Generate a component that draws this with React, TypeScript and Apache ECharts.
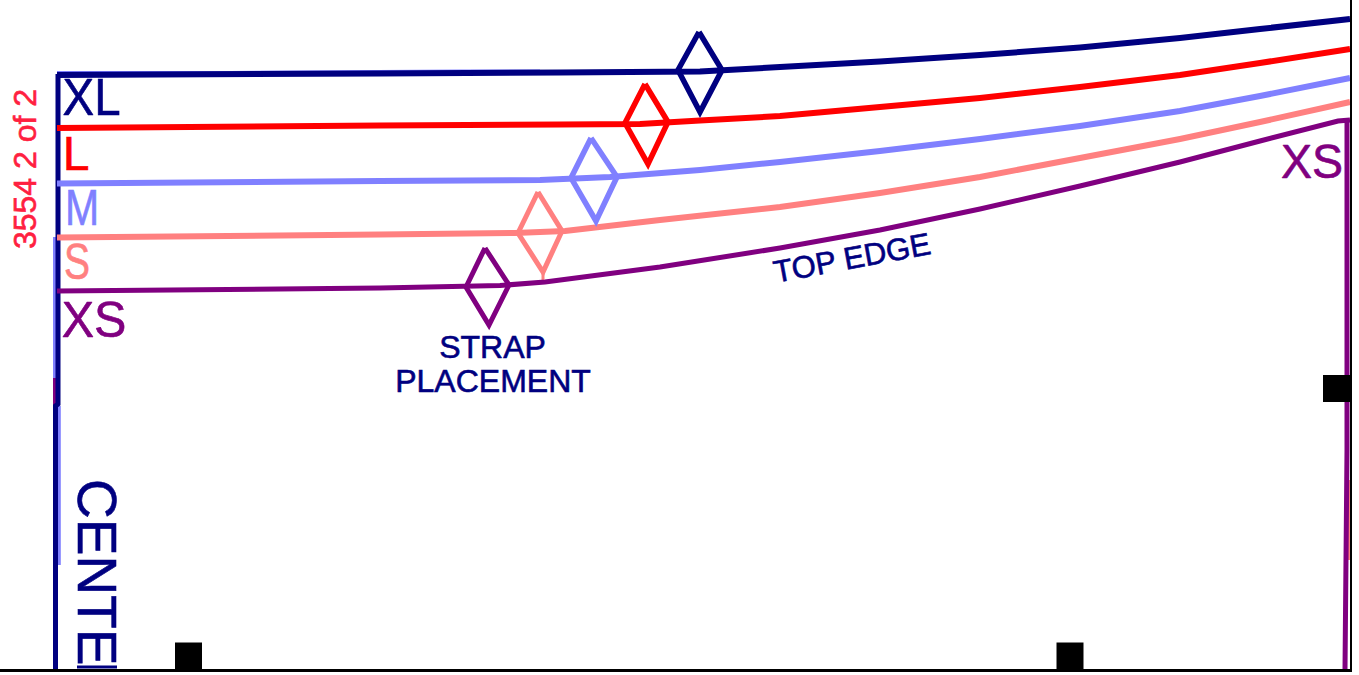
import React, { useEffect, useRef } from "react";
import * as echarts from "echarts";

const NAVY = "#000080";
const RED = "#ff0000";
const BLUE = "#8080ff";
const SALMON = "#ff8080";
const PURPLE = "#800080";
const FONT = '"Liberation Sans", Arial, sans-serif';

// Size curves of the pattern's top edge, as [x, y] on the sheet scale
const sizeXL = [[57, 75], [380, 73.5], [560, 72.5], [700, 71.5], [780, 67], [880, 61.5], [980, 55], [1080, 47.5], [1180, 38], [1260, 29], [1350, 19]];
const sizeL = [[57, 128], [380, 125.5], [560, 124.5], [640, 124], [700, 120.5], [780, 116], [880, 107], [980, 98], [1080, 87], [1180, 75], [1260, 63], [1350, 49]];
const sizeM = [[57, 183.5], [380, 181], [540, 180], [610, 177], [700, 170], [780, 162], [880, 151], [980, 139], [1080, 126], [1180, 111], [1260, 96], [1350, 78]];
const sizeS = [[57, 237.5], [380, 234.5], [515, 233], [565, 231], [660, 220], [780, 207], [880, 193], [980, 177], [1080, 158], [1180, 139], [1260, 122], [1350, 102]];
const sizeXS = [[57, 291], [380, 288], [500, 285.5], [545, 282], [660, 267], [780, 248], [880, 230], [980, 209], [1080, 186], [1180, 162], [1260, 141], [1338, 121], [1350, 120]];

// Strap placement diamonds: top, right, bottom, left, top
const diamondXL = [[699, 32], [722, 70], [700, 112], [678, 70], [699, 32]];
const diamondL = [[645, 84], [668, 122], [648, 164], [625, 123], [645, 84]];
const diamondM = [[591, 138], [617, 177], [596, 221], [571, 178], [591, 138]];
const diamondS = [[538, 192], [562, 231], [543, 272], [518, 233], [538, 192]];
const diamondXS = [[485, 248], [509, 285], [489, 325], [466, 287], [485, 248]];
const strapTailS = [[543, 272], [543, 281]];

// Pattern borders
const centerEdge = [[58, 74], [58, 404], [55.5, 406], [55.5, 670]];
const centerFringeTop = [[54.5, 237], [54.5, 378]];
const centerFringeMid = [[54.5, 378], [54.5, 406]];
const centerFringeBottom = [[59.3, 406], [59.3, 565]];
const topFringe = [[57, 72], [230, 72], [460, 70.5], [540, 70.5]];
const rightEdge = [[1347, 120], [1347, 450], [1345, 670]];
const rightFringe = [[1349, 480], [1349, 560]];
const sheetBottom = [[0, 670.5], [1352, 670.5]];
const sheetRight = [[1351, 0], [1351, 670]];
const centerLabelSliver = [[77, 667], [117, 667]];

// Registration squares, centre points
const squares = [[188.5, 656], [1070, 656], [1336.5, 388.5]];

const line = (name: string, data: number[][], color: string, width: number, z = 3) => ({
  name,
  type: "line",
  data,
  symbol: "none",
  smooth: false,
  silent: true,
  z,
  lineStyle: { color, width, cap: "butt", join: "miter" },
});

const label = (
  text: string,
  x: number,
  y: number,
  fill: string,
  fontSize: number,
  extra: Record<string, unknown> = {},
) => ({
  type: "text",
  x,
  y,
  z: 10,
  silent: true,
  style: { text, fill, fontSize, fontFamily: FONT, textAlign: "center", textVerticalAlign: "middle", stroke: fill, lineWidth: 0.6 },
  ...extra,
});

export default function App() {
  const ref = useRef<HTMLDivElement>(null);
  useEffect(() => {
    const chart = echarts.init(ref.current!, undefined, { renderer: "svg" });
    chart.setOption({
      animation: false,
      backgroundColor: "#ffffff",
      grid: { left: 0, right: 0, top: 0, bottom: 0 },
      xAxis: { type: "value", min: 0, max: 1359, show: false },
      yAxis: { type: "value", min: 0, max: 675, inverse: true, show: false },
      series: [
        line("Top fringe", topFringe, BLUE, 2),
        line("Centre fringe upper", centerFringeTop, BLUE, 3),
        line("Centre fringe mid", centerFringeMid, PURPLE, 3),
        line("Centre fringe lower", centerFringeBottom, BLUE, 3),
        line("Right fringe", rightFringe, SALMON, 2),
        line("Centre edge", centerEdge, NAVY, 5),
        line("Right edge", rightEdge, PURPLE, 5),
        line("XS", sizeXS, PURPLE, 5, 4),
        line("S", sizeS, SALMON, 6),
        line("M", sizeM, BLUE, 6),
        line("L", sizeL, RED, 6),
        line("XL", sizeXL, NAVY, 6),
        line("Diamond XS", diamondXS, PURPLE, 5, 4),
        line("Diamond S", diamondS, SALMON, 5),
        line("Strap tail S", strapTailS, SALMON, 3),
        line("Diamond M", diamondM, BLUE, 5.5),
        line("Diamond L", diamondL, RED, 5.5),
        line("Diamond XL", diamondXL, NAVY, 5.5),
        line("Center label sliver", centerLabelSliver, NAVY, 3, 9),
        {
          name: "Registration squares",
          type: "scatter",
          data: squares,
          symbol: "rect",
          symbolSize: [27, 27],
          silent: true,
          z: 28,
          itemStyle: { color: "#000000", opacity: 1 },
        },
        line("Sheet bottom", sheetBottom, "#000000", 3, 30),
        line("Sheet right", sheetRight, "#000000", 2, 30),
      ],
      graphic: [
        label("3554 2 of 2", 25, 169, "#ff2040", 32, { rotation: Math.PI / 2 }),
        label("XL", 91.5, 97, NAVY, 51, { scaleX: 0.93 }),
        label("L", 76, 153, RED, 48),
        label("M", 82, 208, BLUE, 50, { scaleX: 0.82 }),
        label("S", 77, 262, SALMON, 50, { scaleX: 0.78 }),
        label("XS", 94, 319, PURPLE, 50, { scaleX: 0.97 }),
        label("XS", 1312, 161, PURPLE, 48, { scaleX: 0.97 }),
        label("STRAP", 492.5, 347, NAVY, 32),
        label("PLACEMENT", 493, 381, NAVY, 32),
        label("TOP EDGE", 852, 258, NAVY, 31, { rotation: (10.5 * Math.PI) / 180 }),
        {
          type: "text",
          x: 97,
          y: 479,
          z: 10,
          silent: true,
          rotation: -Math.PI / 2,
          style: { text: "CENTE", fill: NAVY, stroke: NAVY, lineWidth: 0.6, fontSize: 55, fontFamily: FONT, textAlign: "left", textVerticalAlign: "middle" },
        },
      ],
    });
    return () => chart.dispose();
  }, []);
  return <div ref={ref} style={{ position: "absolute", left: 0, top: 0, width: 1359, height: 675 }} />;
}
